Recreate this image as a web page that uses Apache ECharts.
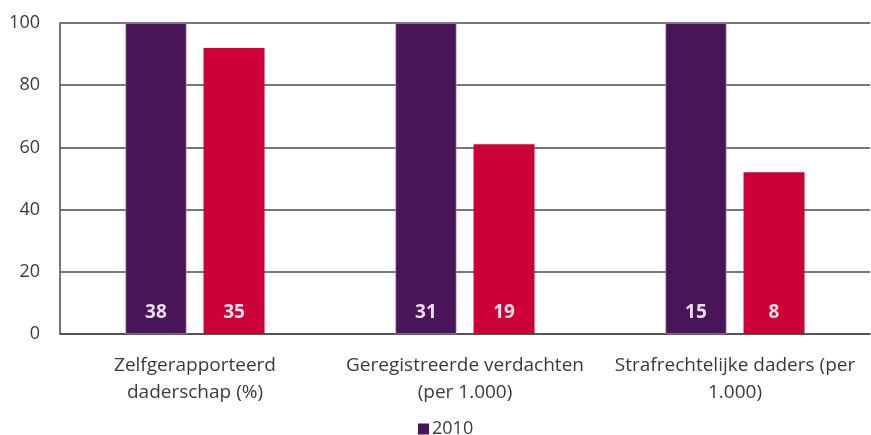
<!DOCTYPE html>
<html>
<head>
<meta charset="utf-8">
<script src="https://cdn.jsdelivr.net/npm/echarts@6/dist/echarts.min.js"></script>
<style>
  html, body { margin: 0; padding: 0; background: #ffffff; }
  #chart { width: 871px; height: 435px; }
</style>
</head>
<body>
<div id="chart"></div>
<script>
// Categories (x axis)
const categories = [
  'Zelfgerapporteerd\ndaderschap (%)',
  'Geregistreerde verdachten\n(per 1.000)',
  'Strafrechtelijke daders (per\n1.000)'
];

// Bar heights, indexed (2010 = 100)
const index2010 = [100, 100, 100];
const indexLater = [92, 61, 52];

// Absolute values printed at the foot of each bar
const values2010 = [38, 31, 15];
const valuesLater = [35, 19, 8];

// Y axis range
const yMin = 0;
const yMax = 100;
const yStep = 20;

const purple = '#4a1558';
const red = '#cc0036';
const textColor = '#3a3a3a';
const font = 'Open Sans';

const chart = echarts.init(document.getElementById('chart'), null, { renderer: 'canvas' });

chart.setOption({
  animation: false,
  backgroundColor: '#ffffff',
  textStyle: { fontFamily: font },
  grid: { left: 60, right: 1, top: 23, bottom: 101, containLabel: false },
  legend: {
    data: ['2010'],
    left: 413,
    top: 415,
    itemWidth: 11,
    itemHeight: 11,
    itemGap: 6,
    icon: 'rect',
    itemStyle: { borderWidth: 0 },
    textStyle: { color: textColor, fontSize: 18, fontFamily: font, padding: [0, 0, 0, -2] }
  },
  xAxis: {
    type: 'category',
    data: categories,
    axisTick: { show: false },
    axisLine: { show: true, lineStyle: { color: '#4a4a4a', width: 1.5 } },
    axisLabel: {
      color: textColor,
      fontSize: 19,
      fontFamily: font,
      lineHeight: 27,
      margin: 18,
      interval: 0
    }
  },
  yAxis: {
    type: 'value',
    min: yMin,
    max: yMax,
    interval: yStep,
    axisLine: { show: true, lineStyle: { color: '#4a4a4a', width: 1.5 } },
    axisTick: { show: false },
    splitLine: { show: true, lineStyle: { color: '#4a4a4a', width: 1.5 } },
    axisLabel: { color: textColor, fontSize: 18, fontFamily: font, margin: 20 }
  },
  series: [
    {
      name: '2010',
      type: 'bar',
      data: index2010,
      barWidth: 61,
      barGap: '28%',
      itemStyle: { color: purple, borderColor: '#c9a3d6', borderWidth: 0.6 },
      label: {
        show: true,
        position: 'insideBottom',
        distance: 12,
        color: '#eadcf2',
        fontSize: 19,
        fontWeight: 'bold',
        fontFamily: font,
        formatter: p => values2010[p.dataIndex]
      }
    },
    {
      name: 'later',
      type: 'bar',
      data: indexLater,
      barWidth: 61,
      itemStyle: { color: red },
      label: {
        show: true,
        position: 'insideBottom',
        distance: 12,
        color: '#ffe0ea',
        fontSize: 19,
        fontWeight: 'bold',
        fontFamily: font,
        formatter: p => valuesLater[p.dataIndex]
      }
    }
  ]
});
</script>
</body>
</html>
